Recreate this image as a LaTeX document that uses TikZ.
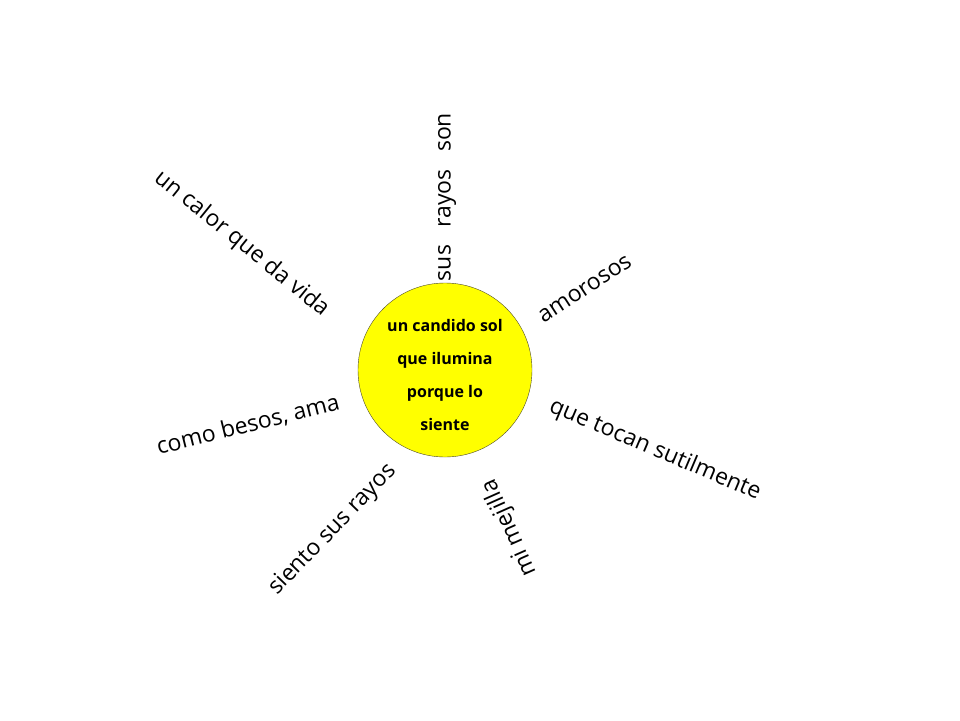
\documentclass[tikz,border=0pt]{standalone}
\usepackage{fontspec}
\setmainfont{Open Sans}
\definecolor{sunyellow}{RGB}{255,255,0}
\begin{document}
\begin{tikzpicture}[x=1pt,y=-1pt,
  ray/.style={font=\fontsize{23}{26}\selectfont, inner sep=0pt, anchor=center},
  sun/.style={circle, fill=sunyellow, draw=black!60!olive, line width=0.4pt, minimum size=174pt, inner sep=0pt},
  suntext/.style={font=\bfseries\fontsize{16}{33}\selectfont, align=center}]
\useasboundingbox (0,0) rectangle (960,720);
\node[sun] (sol) at (445,370) {};
\node[suntext] (centro) at (445,375) {un candido sol\\que ilumina\\porque lo\\siente};
\node[ray, rotate=90] (r1) at (447,197) {sus\hspace{0.5em} rayos\hspace{0.5em} son};
\node[ray, rotate=-39] (r2) at (242,244) {un calor que da vida};
\node[ray, rotate=33] (r3) at (585,289) {amorosos};
\node[ray, rotate=-23] (r4) at (655,450) {que tocan sutilmente};
\node[ray, rotate=114] (r5) at (510,528) {mi mejilla};
\node[ray, rotate=46] (r6) at (333,530) {siento sus rayos};
\node[ray, rotate=14] (r7) at (248,425) {como besos, ama};
\end{tikzpicture}
\end{document}
